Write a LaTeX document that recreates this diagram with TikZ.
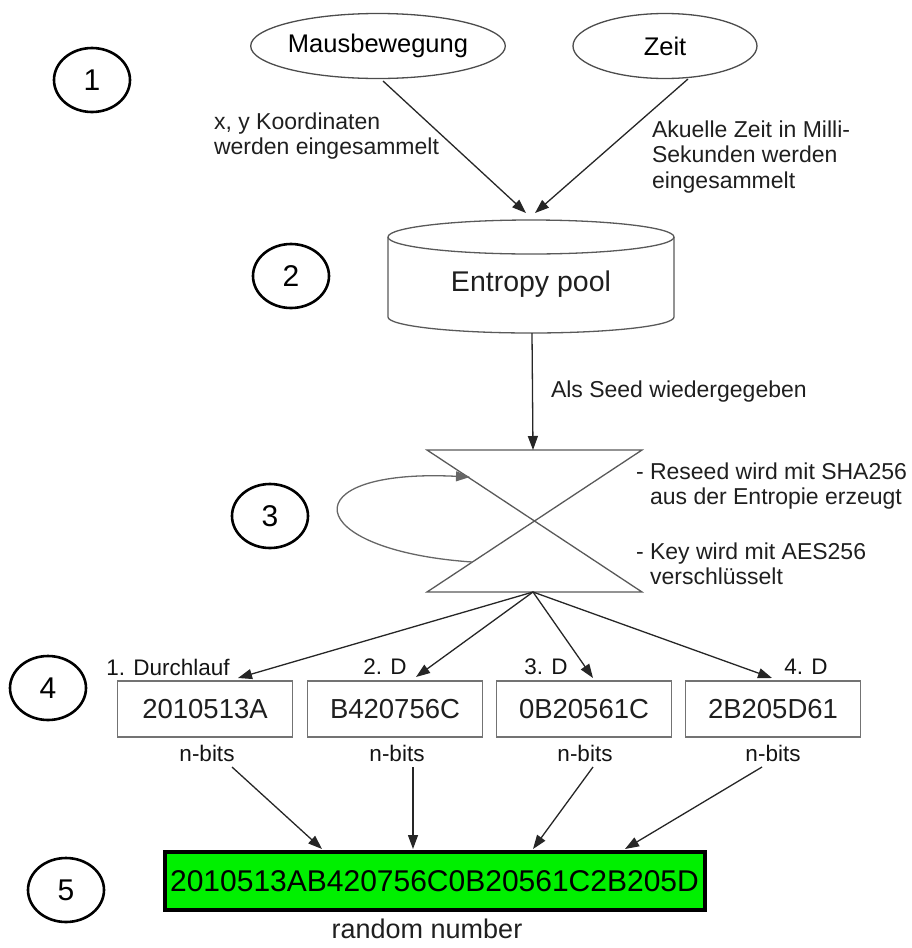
\documentclass[tikz,border=0pt]{standalone}
\usepackage{fontspec}
\setmainfont{Liberation Sans}
\usetikzlibrary{arrows.meta,shapes.geometric}
\begin{document}
\begin{tikzpicture}[x=1pt,y=-1pt,
  every node/.style={inner sep=0pt, outer sep=0pt},
  src/.style={ellipse, draw=black!70, line width=1.3pt, minimum height=65pt,
    font=\fontsize{25.5}{30}\selectfont},
  stage/.style={ellipse, draw=black, line width=2.6pt, minimum width=76pt,
    minimum height=64pt, font=\fontsize{30}{36}\selectfont},
  note/.style={align=left, anchor=west, font=\fontsize{23}{25.5}\selectfont, text=black!88},
  chunk/.style={rectangle, draw=black!55, line width=1.5pt, minimum width=175pt,
    minimum height=56pt, font=\fontsize{27.5}{32}\selectfont, text=black!88},
  tag/.style={font=\fontsize{22.5}{26}\selectfont, text=black!92},
  arr/.style={draw=black!85, line width=1.3pt, -{Triangle[length=14pt,width=10pt]}},
  shape line/.style={draw=black!65, line width=1.3pt},
]
\useasboundingbox (0,0) rectangle (912,948);

% stage markers
\node[stage] (c1) at (92,80) {1};
\node[stage] (c2) at (291,276) {2};
\node[stage] (c3) at (270,516) {3};
\node[stage] (c4) at (48,688) {4};
\node[stage] (c5) at (66,890) {5};

% entropy sources
\node[src, minimum width=230pt] (maus) at (378,46) {Mausbewegung};
\node[src, minimum width=184pt] (zeit) at (665,46) {Zeit};
\coordinate (mausout) at (383,81);
\coordinate (zeitout) at (688,79);
\coordinate (poolinA) at (526,213);
\coordinate (poolinB) at (535,213);
\draw[arr] (mausout) -- (poolinA);
\draw[arr] (zeitout) -- (poolinB);
\node[note] (mausnote) at (214,136) {x, y Koordinaten\\werden eingesammelt};
\node[note] (zeitnote) at (652,157) {Akuelle Zeit in Milli-\\Sekunden werden\\eingesammelt};

% entropy pool cylinder
\draw[shape line] (531,237) ellipse [x radius=143pt, y radius=17pt];
\draw[shape line] (388,237) -- (388,317)
  arc[start angle=180, end angle=360, x radius=143pt, y radius=16pt] -- (674,237);
\node[font=\fontsize{28.5}{34}\selectfont, text=black!88] (pool) at (531,284) {Entropy pool};
\coordinate (poolout) at (532,333);

% generator (hourglass)
\coordinate (hgtop) at (533,450);
\coordinate (hgbot) at (533,592);
\draw[shape line, line join=miter] (427,450) -- (642,450) -- (427,592) -- (642,592) -- cycle;
\draw[arr] (poolout) -- (hgtop);
\node[note] (seednote) at (551,392) {Als Seed wiedergegeben};
\node[note] (reseed) at (636,486) {- Reseed wird mit SHA256\\\hphantom{- }aus der Entropie erzeugt};
\node[note] (keynote) at (636,564) {- Key wird mit AES256\\\hphantom{- }verschlüsselt};

% reseed loop
\coordinate (loopA) at (472,562);
\coordinate (loopB) at (470,477);
\draw[arr, draw=black!60] (loopA) .. controls (300,550) and (290,468) .. (loopB);

% output blocks
\node[chunk] (b1) at (205,709) {2010513A};
\node[chunk] (b2) at (395,709) {B420756C};
\node[chunk] (b3) at (584,709) {0B20561C};
\node[chunk] (b4) at (773,709) {2B205D61};
\node[tag] (l1) at (168,667) {1. Durchlauf};
\node[tag] (l2) at (385,667) {2. D};
\node[tag] (l3) at (546,667) {3. D};
\node[tag] (l4) at (806,667) {4. D};
\coordinate (t1) at (238,678);
\coordinate (t2) at (416,677);
\coordinate (t3) at (593,678);
\coordinate (t4) at (772,678);
\foreach \t in {t1,t2,t3,t4} \draw[arr] (hgbot) -- (\t);

% n-bit labels
\node[tag] (n1) at (207,753) {n-bits};
\node[tag] (n2) at (397,753) {n-bits};
\node[tag] (n3) at (585,753) {n-bits};
\node[tag] (n4) at (773,753) {n-bits};
\coordinate (s1) at (232,767);
\coordinate (s2) at (413,767);
\coordinate (s3) at (593,767);
\coordinate (s4) at (762,767);

% combined random number
\node[rectangle, draw=black, line width=4pt, fill={rgb,255:red,0;green,240;blue,0},
  minimum width=540pt, minimum height=58pt, font=\fontsize{30}{34}\selectfont]
  (rand) at (434.5,881) {2010513AB420756C0B20561C2B205D};
\coordinate (g1) at (322,849);
\coordinate (g2) at (413,849);
\coordinate (g3) at (533,849);
\coordinate (g4) at (625,849);
\draw[arr] (s1) -- (g1);
\draw[arr] (s2) -- (g2);
\draw[arr] (s3) -- (g3);
\draw[arr] (s4) -- (g4);
\node[font=\fontsize{27}{32}\selectfont, text=black!88] (randlabel) at (427,929) {random number};
\end{tikzpicture}
\end{document}
